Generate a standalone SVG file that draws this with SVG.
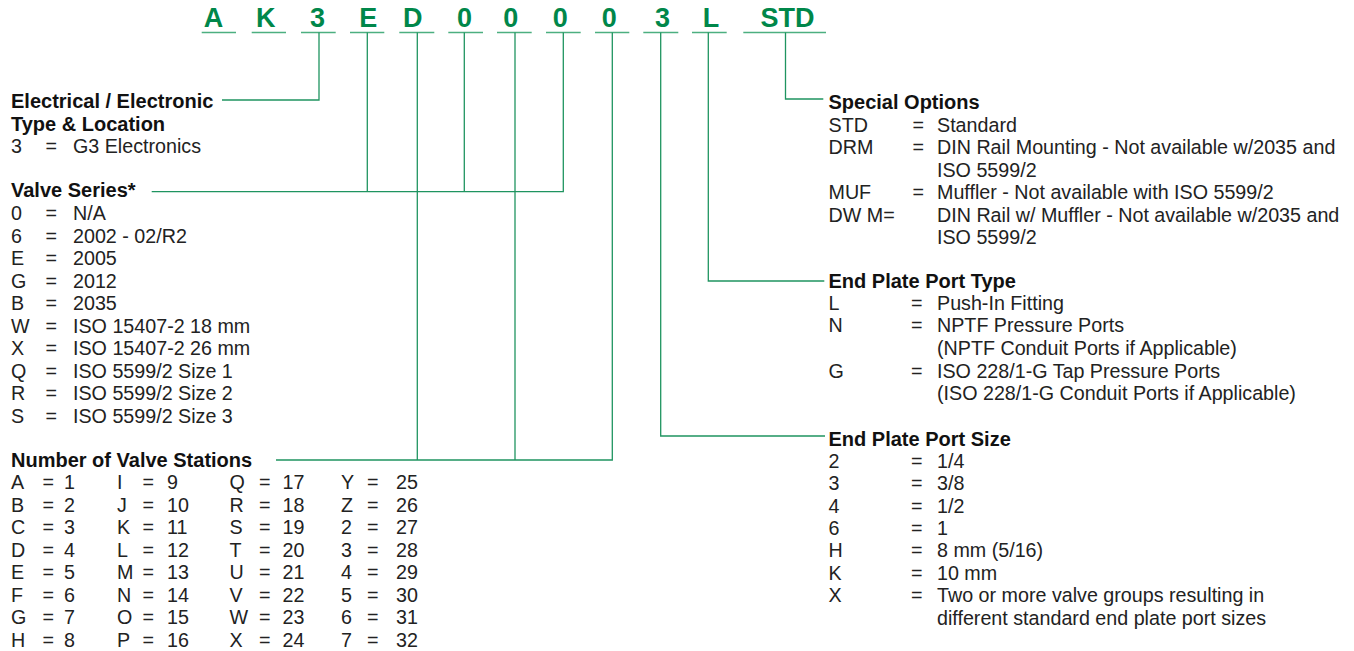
<svg xmlns="http://www.w3.org/2000/svg" width="1354" height="651" viewBox="0 0 1354 651">
<style>
.code{font-family:"Liberation Sans",Arial,sans-serif;font-weight:bold;font-size:27px;fill:#00874a;text-anchor:middle}
.h{font-family:"Liberation Sans",Arial,sans-serif;font-weight:bold;font-size:20px;fill:#111}
.hr{font-family:"Liberation Sans",Arial,sans-serif;font-weight:bold;font-size:20px;fill:#111}
.t{font-family:"Liberation Sans",Arial,sans-serif;font-size:19.7px;fill:#222}
.ul{stroke:#4caf80;stroke-width:1.5;fill:none}
.cn{stroke:#1f9460;stroke-width:1.3;fill:none}
</style>
<rect width="1354" height="651" fill="#fff"/>
<g id="code">
  <g id="c1"><text class="code" x="213.5" y="27">A</text><line class="ul" x1="201.7" y1="32.5" x2="236" y2="32.5"/></g>
  <g id="c2"><text class="code" x="265.8" y="27">K</text><line class="ul" x1="251.7" y1="32.5" x2="286" y2="32.5"/></g>
  <g id="c3"><text class="code" x="317.5" y="27">3</text><line class="ul" x1="301" y1="32.5" x2="335.7" y2="32.5"/></g>
  <g id="c4"><text class="code" x="368.3" y="27">E</text><line class="ul" x1="350" y1="32.5" x2="384.3" y2="32.5"/></g>
  <g id="c5"><text class="code" x="412.7" y="27">D</text><line class="ul" x1="399.3" y1="32.5" x2="434.3" y2="32.5"/></g>
  <g id="c6"><text class="code" x="464.5" y="27">0</text><line class="ul" x1="448.3" y1="32.5" x2="483" y2="32.5"/></g>
  <g id="c7"><text class="code" x="510.8" y="27">0</text><line class="ul" x1="497" y1="32.5" x2="531.7" y2="32.5"/></g>
  <g id="c8"><text class="code" x="560.3" y="27">0</text><line class="ul" x1="546" y1="32.5" x2="580.7" y2="32.5"/></g>
  <g id="c9"><text class="code" x="609.2" y="27">0</text><line class="ul" x1="595" y1="32.5" x2="629.3" y2="32.5"/></g>
  <g id="c10"><text class="code" x="662.5" y="27">3</text><line class="ul" x1="643.3" y1="32.5" x2="678.3" y2="32.5"/></g>
  <g id="c11"><text class="code" x="711" y="27">L</text><line class="ul" x1="692" y1="32.5" x2="726.7" y2="32.5"/></g>
  <g id="c12"><text class="code" x="787.5" y="27">STD</text><line class="ul" x1="743.3" y1="32.5" x2="826" y2="32.5"/></g>
</g>
<g id="connectors">
  <polyline class="cn" points="319,32.5 319,100 222,100"/>
  <polyline class="cn" points="151.7,191.7 563.3,191.7 563.3,32.5"/>
  <line class="cn" x1="367.3" y1="32.5" x2="367.3" y2="191.7"/>
  <line class="cn" x1="464.3" y1="32.5" x2="464.3" y2="191.7"/>
  <polyline class="cn" points="276,460 612.3,460 612.3,32.5"/>
  <line class="cn" x1="417.3" y1="32.5" x2="417.3" y2="460"/>
  <line class="cn" x1="515" y1="32.5" x2="515" y2="460"/>
  <polyline class="cn" points="660.7,32.5 660.7,436 825,436"/>
  <polyline class="cn" points="708.3,32.5 708.3,281 824.3,281"/>
  <polyline class="cn" points="785.5,32.5 785.5,99 823.3,99"/>
</g>
<g id="electrical">
  <text class="h" x="11" y="107.7">Electrical / Electronic</text>
  <text class="h" x="11" y="130.5">Type &amp; Location</text>
  <text class="t" x="11" y="153.3">3</text><text class="t" x="45.5" y="153.3">=</text><text class="t" x="73" y="153.3">G3 Electronics</text>
</g>
<g id="valve-series">
  <text class="h" x="11" y="197.3">Valve Series*</text>
  <g class="t">
    <text x="11" y="220">0</text><text x="45.5" y="220">=</text><text x="73" y="220">N/A</text>
    <text x="11" y="242.5">6</text><text x="45.5" y="242.5">=</text><text x="73" y="242.5">2002 - 02/R2</text>
    <text x="11" y="265">E</text><text x="45.5" y="265">=</text><text x="73" y="265">2005</text>
    <text x="11" y="287.5">G</text><text x="45.5" y="287.5">=</text><text x="73" y="287.5">2012</text>
    <text x="11" y="310">B</text><text x="45.5" y="310">=</text><text x="73" y="310">2035</text>
    <text x="11" y="332.5">W</text><text x="45.5" y="332.5">=</text><text x="73" y="332.5">ISO 15407-2 18 mm</text>
    <text x="11" y="355">X</text><text x="45.5" y="355">=</text><text x="73" y="355">ISO 15407-2 26 mm</text>
    <text x="11" y="377.5">Q</text><text x="45.5" y="377.5">=</text><text x="73" y="377.5">ISO 5599/2 Size 1</text>
    <text x="11" y="400">R</text><text x="45.5" y="400">=</text><text x="73" y="400">ISO 5599/2 Size 2</text>
    <text x="11" y="422.5">S</text><text x="45.5" y="422.5">=</text><text x="73" y="422.5">ISO 5599/2 Size 3</text>
  </g>
</g>
<g id="valve-stations">
  <text class="h" x="11" y="466.7">Number of Valve Stations</text>
  <g class="t">
    <text x="11" y="489.3">A</text><text x="42.5" y="489.3">=</text><text x="64" y="489.3">1</text>
    <text x="11" y="511.8">B</text><text x="42.5" y="511.8">=</text><text x="64" y="511.8">2</text>
    <text x="11" y="534.3">C</text><text x="42.5" y="534.3">=</text><text x="64" y="534.3">3</text>
    <text x="11" y="556.8">D</text><text x="42.5" y="556.8">=</text><text x="64" y="556.8">4</text>
    <text x="11" y="579.3">E</text><text x="42.5" y="579.3">=</text><text x="64" y="579.3">5</text>
    <text x="11" y="601.8">F</text><text x="42.5" y="601.8">=</text><text x="64" y="601.8">6</text>
    <text x="11" y="624.3">G</text><text x="42.5" y="624.3">=</text><text x="64" y="624.3">7</text>
    <text x="11" y="646.8">H</text><text x="42.5" y="646.8">=</text><text x="64" y="646.8">8</text>

    <text x="117" y="489.3">I</text><text x="142.5" y="489.3">=</text><text x="167" y="489.3">9</text>
    <text x="117" y="511.8">J</text><text x="142.5" y="511.8">=</text><text x="167" y="511.8">10</text>
    <text x="117" y="534.3">K</text><text x="142.5" y="534.3">=</text><text x="167" y="534.3">11</text>
    <text x="117" y="556.8">L</text><text x="142.5" y="556.8">=</text><text x="167" y="556.8">12</text>
    <text x="117" y="579.3">M</text><text x="142.5" y="579.3">=</text><text x="167" y="579.3">13</text>
    <text x="117" y="601.8">N</text><text x="142.5" y="601.8">=</text><text x="167" y="601.8">14</text>
    <text x="117" y="624.3">O</text><text x="142.5" y="624.3">=</text><text x="167" y="624.3">15</text>
    <text x="117" y="646.8">P</text><text x="142.5" y="646.8">=</text><text x="167" y="646.8">16</text>

    <text x="229.5" y="489.3">Q</text><text x="259" y="489.3">=</text><text x="282.5" y="489.3">17</text>
    <text x="229.5" y="511.8">R</text><text x="259" y="511.8">=</text><text x="282.5" y="511.8">18</text>
    <text x="229.5" y="534.3">S</text><text x="259" y="534.3">=</text><text x="282.5" y="534.3">19</text>
    <text x="229.5" y="556.8">T</text><text x="259" y="556.8">=</text><text x="282.5" y="556.8">20</text>
    <text x="229.5" y="579.3">U</text><text x="259" y="579.3">=</text><text x="282.5" y="579.3">21</text>
    <text x="229.5" y="601.8">V</text><text x="259" y="601.8">=</text><text x="282.5" y="601.8">22</text>
    <text x="229.5" y="624.3">W</text><text x="259" y="624.3">=</text><text x="282.5" y="624.3">23</text>
    <text x="229.5" y="646.8">X</text><text x="259" y="646.8">=</text><text x="282.5" y="646.8">24</text>

    <text x="341" y="489.3">Y</text><text x="367" y="489.3">=</text><text x="396" y="489.3">25</text>
    <text x="341" y="511.8">Z</text><text x="367" y="511.8">=</text><text x="396" y="511.8">26</text>
    <text x="341" y="534.3">2</text><text x="367" y="534.3">=</text><text x="396" y="534.3">27</text>
    <text x="341" y="556.8">3</text><text x="367" y="556.8">=</text><text x="396" y="556.8">28</text>
    <text x="341" y="579.3">4</text><text x="367" y="579.3">=</text><text x="396" y="579.3">29</text>
    <text x="341" y="601.8">5</text><text x="367" y="601.8">=</text><text x="396" y="601.8">30</text>
    <text x="341" y="624.3">6</text><text x="367" y="624.3">=</text><text x="396" y="624.3">31</text>
    <text x="341" y="646.8">7</text><text x="367" y="646.8">=</text><text x="396" y="646.8">32</text>
  </g>
</g>
<g id="special-options">
  <text class="hr" x="828.5" y="108.5">Special Options</text>
  <g class="t">
    <text x="828.5" y="131.5">STD</text><text x="912.5" y="131.5">=</text><text x="937" y="131.5">Standard</text>
    <text x="828.5" y="154">DRM</text><text x="912.5" y="154">=</text><text x="937" y="154">DIN Rail Mounting - Not available w/2035 and</text>
    <text x="937" y="176.5">ISO 5599/2</text>
    <text x="828.5" y="199">MUF</text><text x="912.5" y="199">=</text><text x="937" y="199">Muffler - Not available with ISO 5599/2</text>
    <text x="828.5" y="221.5">DW M=</text><text x="937" y="221.5">DIN Rail w/ Muffler - Not available w/2035 and</text>
    <text x="937" y="243.5">ISO 5599/2</text>
  </g>
</g>
<g id="port-type">
  <text class="hr" x="828.5" y="288.3">End Plate Port Type</text>
  <g class="t">
    <text x="828.5" y="310">L</text><text x="911" y="310">=</text><text x="937" y="310">Push-In Fitting</text>
    <text x="828.5" y="332.4">N</text><text x="911" y="332.4">=</text><text x="937" y="332.4">NPTF Pressure Ports</text>
    <text x="937" y="355">(NPTF Conduit Ports if Applicable)</text>
    <text x="828.5" y="377.6">G</text><text x="911" y="377.6">=</text><text x="937" y="377.6">ISO 228/1-G Tap Pressure Ports</text>
    <text x="937" y="400">(ISO 228/1-G Conduit Ports if Applicable)</text>
  </g>
</g>
<g id="port-size">
  <text class="hr" x="828.5" y="445.5">End Plate Port Size</text>
  <g class="t">
    <text x="828.5" y="467.7">2</text><text x="911" y="467.7">=</text><text x="937" y="467.7">1/4</text>
    <text x="828.5" y="490.1">3</text><text x="911" y="490.1">=</text><text x="937" y="490.1">3/8</text>
    <text x="828.5" y="512.5">4</text><text x="911" y="512.5">=</text><text x="937" y="512.5">1/2</text>
    <text x="828.5" y="534.9">6</text><text x="911" y="534.9">=</text><text x="937" y="534.9">1</text>
    <text x="828.5" y="557.3">H</text><text x="911" y="557.3">=</text><text x="937" y="557.3">8 mm (5/16)</text>
    <text x="828.5" y="579.7">K</text><text x="911" y="579.7">=</text><text x="937" y="579.7">10 mm</text>
    <text x="828.5" y="602.1">X</text><text x="911" y="602.1">=</text><text x="937" y="602.1">Two or more valve groups resulting in</text>
    <text x="937" y="624.5">different standard end plate port sizes</text>
  </g>
</g>
</svg>
